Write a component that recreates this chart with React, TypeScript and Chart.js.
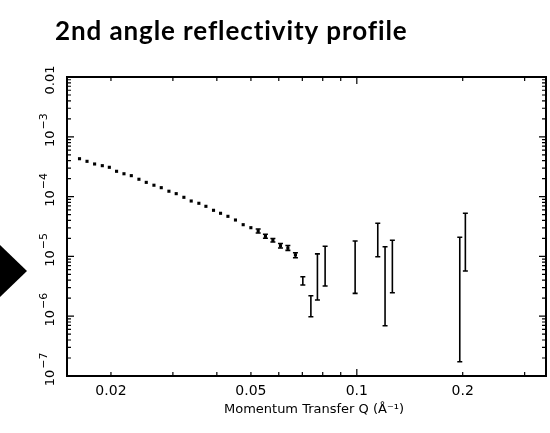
import React, { useEffect, useRef } from "react";
import { Chart, registerables } from "chart.js";

Chart.register(...registerables);

const TITLE = "2nd angle reflectivity profile";
const X_TITLE = "Momentum Transfer Q (Å⁻¹)";

// Momentum transfer Q (1/Å) and reflectivity of the plotted markers
const qMarkers = [
  0.01628, 0.0171, 0.01797, 0.0189, 0.01979, 0.02075, 0.02178, 0.02285, 0.02402, 0.0252,
  0.0265, 0.0278, 0.02923, 0.03066, 0.03224, 0.03382, 0.03556, 0.03724, 0.03914, 0.04098,
  0.04301, 0.04519, 0.04753, 0.04998, 0.05243, 0.05498, 0.05773, 0.06067, 0.06368, 0.06691,
];
const rMarkers = [
  4.3e-4, 3.89e-4, 3.51e-4, 3.29e-4, 3.09e-4, 2.65e-4, 2.41e-4, 2.24e-4, 1.95e-4, 1.73e-4,
  1.55e-4, 1.41e-4, 1.23e-4, 1.12e-4, 9.73e-5, 8.44e-5, 7.73e-5, 6.88e-5, 5.9e-5, 5.26e-5,
  4.68e-5, 4.06e-5, 3.39e-5, 3.02e-5, 2.66e-5, 2.17e-5, 1.86e-5, 1.51e-5, 1.38e-5, 1.06e-5,
];

// Error bars (Q, lower and upper reflectivity)
const qBars = [
  0.05243, 0.05498, 0.05773, 0.06067, 0.06368, 0.06691, 0.07023, 0.07403, 0.07727, 0.08126,
  0.0989, 0.1147, 0.1203, 0.1262, 0.1962, 0.2035,
];
const rBarHigh = [
  2.87e-5, 2.34e-5, 1.99e-5, 1.64e-5, 1.52e-5, 1.15e-5, 4.58e-6, 2.2e-6, 1.1e-5, 1.48e-5,
  1.81e-5, 3.58e-5, 1.45e-5, 1.86e-5, 2.09e-5, 5.26e-5,
];
const rBarLow = [
  2.46e-5, 2.01e-5, 1.74e-5, 1.38e-5, 1.26e-5, 9.5e-6, 3.33e-6, 9.81e-7, 1.87e-6, 3.2e-6,
  2.41e-6, 9.89e-6, 6.94e-7, 2.47e-6, 1.73e-7, 5.7e-6,
];

const xMin = 0.015;
const xMax = 0.345;
const yMin = 1e-7;
const yMax = 1e-2;

const xLabelValues = [0.02, 0.05, 0.1, 0.2];
const xLabelTexts = ["0.02", "0.05", "0.1", "0.2"];
const yLabelValues = [1e-2, 1e-3, 1e-4, 1e-5, 1e-6, 1e-7];
const yLabelBases = ["0.01", "10", "10", "10", "10", "10"];
const yLabelExps = ["", "−3", "−4", "−5", "−6", "−7"];

function logTicks(min: number, max: number) {
  const out: { v: number; major: boolean }[] = [];
  const e0 = Math.floor(Math.log10(min));
  const e1 = Math.ceil(Math.log10(max));
  for (let e = e0; e <= e1; e++) {
    for (let m = 1; m <= 9; m++) {
      const v = m * Math.pow(10, e);
      if (v >= min * 0.9999 && v <= max * 1.0001) out.push({ v, major: m === 1 });
    }
  }
  return out;
}

export default function App() {
  const ref = useRef<HTMLCanvasElement>(null);

  useEffect(() => {
    const canvas = ref.current!;
    const deco = {
      id: "deco",
      afterDatasetsDraw(chart: any) {
        const ctx = chart.ctx as CanvasRenderingContext2D;
        const xs = chart.scales.x;
        const ys = chart.scales.y;
        ctx.save();
        ctx.strokeStyle = "#000";
        ctx.lineWidth = 1.6;
        for (let i = 0; i < qBars.length; i++) {
          const px = xs.getPixelForValue(qBars[i]);
          const y1 = ys.getPixelForValue(rBarHigh[i]);
          const y2 = ys.getPixelForValue(rBarLow[i]);
          ctx.beginPath();
          ctx.moveTo(px, y1);
          ctx.lineTo(px, y2);
          ctx.moveTo(px - 2.5, y1);
          ctx.lineTo(px + 2.5, y1);
          ctx.moveTo(px - 2.5, y2);
          ctx.lineTo(px + 2.5, y2);
          ctx.stroke();
        }
        ctx.restore();
      },
      afterDraw(chart: any) {
        const ctx = chart.ctx as CanvasRenderingContext2D;
        const xs = chart.scales.x;
        const ys = chart.scales.y;
        const a = chart.chartArea;
        ctx.save();
        ctx.fillStyle = "#000";
        ctx.strokeStyle = "#000";

        // frame
        ctx.lineWidth = 2;
        ctx.strokeRect(a.left, a.top, a.right - a.left, a.bottom - a.top);

        // inward ticks
        ctx.lineWidth = 1.2;
        ctx.beginPath();
        for (const t of logTicks(xMin, xMax)) {
          const px = xs.getPixelForValue(t.v);
          const len = t.major ? 7 : 4;
          ctx.moveTo(px, a.bottom);
          ctx.lineTo(px, a.bottom - len);
          ctx.moveTo(px, a.top);
          ctx.lineTo(px, a.top + len);
        }
        for (const t of logTicks(yMin, yMax)) {
          const py = ys.getPixelForValue(t.v);
          const len = t.major ? 7 : 4;
          ctx.moveTo(a.left, py);
          ctx.lineTo(a.left + len, py);
          ctx.moveTo(a.right, py);
          ctx.lineTo(a.right - len, py);
        }
        ctx.stroke();

        // x tick labels
        ctx.font = '14px "DejaVu Sans"';
        ctx.textAlign = "center";
        ctx.textBaseline = "middle";
        for (let i = 0; i < xLabelValues.length; i++) {
          ctx.fillText(xLabelTexts[i], xs.getPixelForValue(xLabelValues[i]), a.bottom + 15);
        }

        // y tick labels (rotated)
        for (let i = 0; i < yLabelValues.length; i++) {
          const py = ys.getPixelForValue(yLabelValues[i]);
          ctx.save();
          ctx.translate(51, py);
          ctx.rotate(-Math.PI / 2);
          ctx.textBaseline = "middle";
          ctx.font = '13px "DejaVu Sans"';
          if (!yLabelExps[i]) {
            ctx.textAlign = "center";
            ctx.fillText(yLabelBases[i], -3, 0);
          } else {
            const w = ctx.measureText(yLabelBases[i]).width;
            ctx.textAlign = "center";
            ctx.fillText(yLabelBases[i], -2, 0);
            ctx.font = '11px "DejaVu Sans"';
            ctx.textAlign = "left";
            ctx.fillText(yLabelExps[i], w / 2 - 1, -7);
          }
          ctx.restore();
        }

        // x axis title
        ctx.font = '13px "DejaVu Sans"';
        ctx.textAlign = "center";
        ctx.textBaseline = "middle";
        ctx.fillText(X_TITLE, 314, a.bottom + 34);

        // chart title
        ctx.font = 'bold 26px Lato';
        (ctx as any).letterSpacing = "0.9px";
        ctx.textAlign = "left";
        ctx.textBaseline = "alphabetic";
        ctx.fillText(TITLE, 55, 40);
        (ctx as any).letterSpacing = "0px";

        // arrow shape at left
        ctx.beginPath();
        ctx.moveTo(0, 245);
        ctx.lineTo(27, 271);
        ctx.lineTo(0, 297);
        ctx.closePath();
        ctx.fill();

        ctx.restore();
      },
    };

    const chart = new Chart(canvas, {
      type: "scatter",
      data: {
        datasets: [
          {
            data: qMarkers.map((q, i) => ({ x: q, y: rMarkers[i] })),
            pointStyle: "rect",
            pointRadius: 2.2,
            backgroundColor: "#000",
            borderWidth: 0,
          },
        ],
      },
      options: {
        responsive: false,
        animation: false,
        layout: { padding: { left: 67, right: 4, top: 77, bottom: 57 } },
        plugins: { legend: { display: false }, tooltip: { enabled: false } },
        scales: {
          x: { type: "logarithmic", min: xMin, max: xMax, display: false },
          y: { type: "logarithmic", min: yMin, max: yMax, display: false },
        },
      },
      plugins: [deco],
    });
    return () => chart.destroy();
  }, []);

  return (
    <div style={{ position: "absolute", left: 0, top: 0, width: 550, height: 433 }}>
      <canvas ref={ref} width={550} height={433} style={{ width: 550, height: 433 }} />
    </div>
  );
}
